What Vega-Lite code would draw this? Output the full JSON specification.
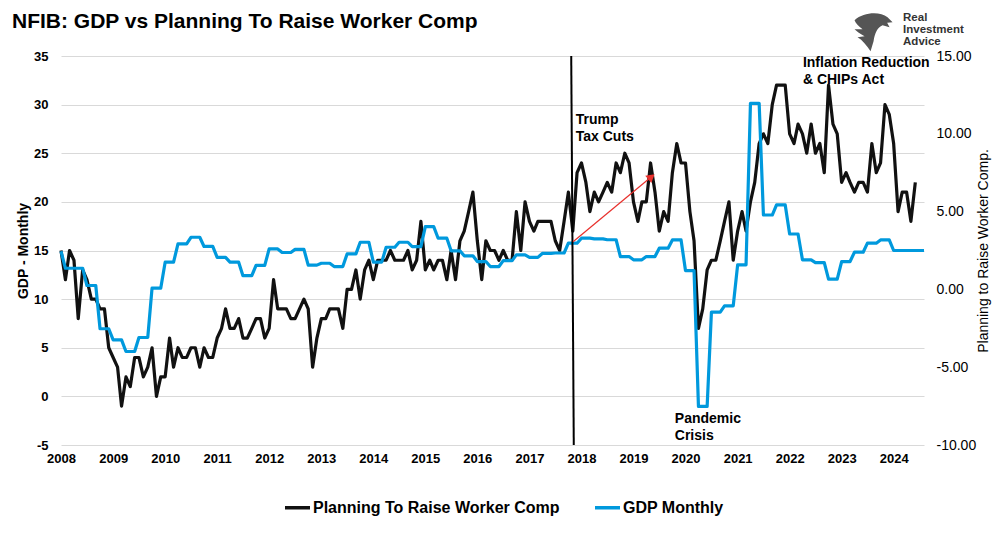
{
  "$schema": "https://vega.github.io/schema/vega-lite/v6.json",
  "width": 863,
  "height": 389,
  "autosize": "none",
  "padding": {"left": 61, "top": 56, "right": 71, "bottom": 93},
  "background": "#ffffff",
  "title": {
    "text": "NFIB: GDP vs Planning To Raise Worker Comp",
    "anchor": "start",
    "frame": "group",
    "orient": "top",
    "offset": 0,
    "baseline": "alphabetic",
    "dx": -49,
    "dy": 37,
    "fontSize": 21,
    "fontWeight": "bold",
    "font": "Liberation Sans",
    "color": "#000000"
  },
  "config": {
    "font": "Liberation Sans",
    "view": {"stroke": null},
    "axis": {"labelFont": "Liberation Sans", "titleFont": "Liberation Sans"}
  },
  "data": {
    "format": {"parse": {"date": "date:'%Y-%m'"}},
    "values": [
      {"date": "2008-01", "comp": 15, "gdp": 2.45},
      {"date": "2008-02", "comp": 12, "gdp": 1.36},
      {"date": "2008-03", "comp": 15, "gdp": 1.36},
      {"date": "2008-04", "comp": 14, "gdp": 1.36},
      {"date": "2008-05", "comp": 8, "gdp": 1.36},
      {"date": "2008-06", "comp": 13, "gdp": 1.36},
      {"date": "2008-07", "comp": 12, "gdp": 0.25},
      {"date": "2008-08", "comp": 10, "gdp": 0.25},
      {"date": "2008-09", "comp": 10, "gdp": 0.25},
      {"date": "2008-10", "comp": 9, "gdp": -2.53},
      {"date": "2008-11", "comp": 9, "gdp": -2.53},
      {"date": "2008-12", "comp": 5, "gdp": -2.53},
      {"date": "2009-01", "comp": 4, "gdp": -3.24},
      {"date": "2009-02", "comp": 3, "gdp": -3.24},
      {"date": "2009-03", "comp": -1, "gdp": -3.24},
      {"date": "2009-04", "comp": 2, "gdp": -3.99},
      {"date": "2009-05", "comp": 1, "gdp": -3.99},
      {"date": "2009-06", "comp": 4, "gdp": -3.99},
      {"date": "2009-07", "comp": 4, "gdp": -3.09},
      {"date": "2009-08", "comp": 2, "gdp": -3.09},
      {"date": "2009-09", "comp": 3, "gdp": -3.09},
      {"date": "2009-10", "comp": 5, "gdp": 0.08},
      {"date": "2009-11", "comp": 0, "gdp": 0.08},
      {"date": "2009-12", "comp": 2, "gdp": 0.08},
      {"date": "2010-01", "comp": 2, "gdp": 1.75},
      {"date": "2010-02", "comp": 6, "gdp": 1.75},
      {"date": "2010-03", "comp": 3, "gdp": 1.75},
      {"date": "2010-04", "comp": 5, "gdp": 2.92},
      {"date": "2010-05", "comp": 4, "gdp": 2.92},
      {"date": "2010-06", "comp": 4, "gdp": 2.92},
      {"date": "2010-07", "comp": 5, "gdp": 3.35},
      {"date": "2010-08", "comp": 5, "gdp": 3.35},
      {"date": "2010-09", "comp": 3, "gdp": 3.35},
      {"date": "2010-10", "comp": 5, "gdp": 2.76},
      {"date": "2010-11", "comp": 4, "gdp": 2.76},
      {"date": "2010-12", "comp": 4, "gdp": 2.76},
      {"date": "2011-01", "comp": 6, "gdp": 2.06},
      {"date": "2011-02", "comp": 7, "gdp": 2.06},
      {"date": "2011-03", "comp": 9, "gdp": 2.06},
      {"date": "2011-04", "comp": 7, "gdp": 1.75},
      {"date": "2011-05", "comp": 7, "gdp": 1.75},
      {"date": "2011-06", "comp": 8, "gdp": 1.75},
      {"date": "2011-07", "comp": 6, "gdp": 0.88},
      {"date": "2011-08", "comp": 6, "gdp": 0.88},
      {"date": "2011-09", "comp": 7, "gdp": 0.88},
      {"date": "2011-10", "comp": 8, "gdp": 1.54},
      {"date": "2011-11", "comp": 8, "gdp": 1.54},
      {"date": "2011-12", "comp": 6, "gdp": 1.54},
      {"date": "2012-01", "comp": 7, "gdp": 2.6},
      {"date": "2012-02", "comp": 12, "gdp": 2.6},
      {"date": "2012-03", "comp": 9, "gdp": 2.6},
      {"date": "2012-04", "comp": 9, "gdp": 2.37},
      {"date": "2012-05", "comp": 9, "gdp": 2.37},
      {"date": "2012-06", "comp": 8, "gdp": 2.37},
      {"date": "2012-07", "comp": 8, "gdp": 2.57},
      {"date": "2012-08", "comp": 9, "gdp": 2.57},
      {"date": "2012-09", "comp": 10, "gdp": 2.57},
      {"date": "2012-10", "comp": 9, "gdp": 1.56},
      {"date": "2012-11", "comp": 3, "gdp": 1.56},
      {"date": "2012-12", "comp": 6, "gdp": 1.56},
      {"date": "2013-01", "comp": 8, "gdp": 1.68},
      {"date": "2013-02", "comp": 8, "gdp": 1.68},
      {"date": "2013-03", "comp": 9, "gdp": 1.68},
      {"date": "2013-04", "comp": 9, "gdp": 1.47},
      {"date": "2013-05", "comp": 9, "gdp": 1.47},
      {"date": "2013-06", "comp": 7, "gdp": 1.47},
      {"date": "2013-07", "comp": 11, "gdp": 2.28},
      {"date": "2013-08", "comp": 11, "gdp": 2.28},
      {"date": "2013-09", "comp": 13, "gdp": 2.28},
      {"date": "2013-10", "comp": 10, "gdp": 3.03},
      {"date": "2013-11", "comp": 13, "gdp": 3.03},
      {"date": "2013-12", "comp": 14, "gdp": 3.03},
      {"date": "2014-01", "comp": 12, "gdp": 1.75},
      {"date": "2014-02", "comp": 14, "gdp": 1.75},
      {"date": "2014-03", "comp": 14, "gdp": 1.75},
      {"date": "2014-04", "comp": 14, "gdp": 2.71},
      {"date": "2014-05", "comp": 15, "gdp": 2.71},
      {"date": "2014-06", "comp": 14, "gdp": 2.71},
      {"date": "2014-07", "comp": 14, "gdp": 3.03},
      {"date": "2014-08", "comp": 14, "gdp": 3.03},
      {"date": "2014-09", "comp": 15, "gdp": 3.03},
      {"date": "2014-10", "comp": 13, "gdp": 2.75},
      {"date": "2014-11", "comp": 14, "gdp": 2.75},
      {"date": "2014-12", "comp": 18, "gdp": 2.75},
      {"date": "2015-01", "comp": 13, "gdp": 4.03},
      {"date": "2015-02", "comp": 14, "gdp": 4.03},
      {"date": "2015-03", "comp": 13, "gdp": 4.03},
      {"date": "2015-04", "comp": 14, "gdp": 3.29},
      {"date": "2015-05", "comp": 14, "gdp": 3.29},
      {"date": "2015-06", "comp": 12, "gdp": 3.29},
      {"date": "2015-07", "comp": 15, "gdp": 2.48},
      {"date": "2015-08", "comp": 12, "gdp": 2.48},
      {"date": "2015-09", "comp": 16, "gdp": 2.48},
      {"date": "2015-10", "comp": 17, "gdp": 2.16},
      {"date": "2015-11", "comp": 19, "gdp": 2.16},
      {"date": "2015-12", "comp": 21, "gdp": 2.16},
      {"date": "2016-01", "comp": 16, "gdp": 1.79},
      {"date": "2016-02", "comp": 12, "gdp": 1.79},
      {"date": "2016-03", "comp": 16, "gdp": 1.79},
      {"date": "2016-04", "comp": 15, "gdp": 1.47},
      {"date": "2016-05", "comp": 15, "gdp": 1.47},
      {"date": "2016-06", "comp": 14, "gdp": 1.47},
      {"date": "2016-07", "comp": 15, "gdp": 1.85},
      {"date": "2016-08", "comp": 14, "gdp": 1.85},
      {"date": "2016-09", "comp": 14, "gdp": 1.85},
      {"date": "2016-10", "comp": 19, "gdp": 2.22},
      {"date": "2016-11", "comp": 15, "gdp": 2.22},
      {"date": "2016-12", "comp": 20, "gdp": 2.22},
      {"date": "2017-01", "comp": 18, "gdp": 2.06},
      {"date": "2017-02", "comp": 17, "gdp": 2.06},
      {"date": "2017-03", "comp": 18, "gdp": 2.06},
      {"date": "2017-04", "comp": 18, "gdp": 2.31},
      {"date": "2017-05", "comp": 18, "gdp": 2.31},
      {"date": "2017-06", "comp": 18, "gdp": 2.31},
      {"date": "2017-07", "comp": 16, "gdp": 2.34},
      {"date": "2017-08", "comp": 15, "gdp": 2.34},
      {"date": "2017-09", "comp": 18, "gdp": 2.34},
      {"date": "2017-10", "comp": 21, "gdp": 2.97},
      {"date": "2017-11", "comp": 17, "gdp": 2.97},
      {"date": "2017-12", "comp": 23, "gdp": 2.97},
      {"date": "2018-01", "comp": 24, "gdp": 3.29},
      {"date": "2018-02", "comp": 22, "gdp": 3.29},
      {"date": "2018-03", "comp": 19, "gdp": 3.29},
      {"date": "2018-04", "comp": 21, "gdp": 3.25},
      {"date": "2018-05", "comp": 20, "gdp": 3.25},
      {"date": "2018-06", "comp": 21, "gdp": 3.25},
      {"date": "2018-07", "comp": 22, "gdp": 3.19},
      {"date": "2018-08", "comp": 21, "gdp": 3.19},
      {"date": "2018-09", "comp": 24, "gdp": 3.19},
      {"date": "2018-10", "comp": 23, "gdp": 2.11},
      {"date": "2018-11", "comp": 25, "gdp": 2.11},
      {"date": "2018-12", "comp": 24, "gdp": 2.11},
      {"date": "2019-01", "comp": 20, "gdp": 1.9},
      {"date": "2019-02", "comp": 18, "gdp": 1.9},
      {"date": "2019-03", "comp": 20, "gdp": 1.9},
      {"date": "2019-04", "comp": 20, "gdp": 2.11},
      {"date": "2019-05", "comp": 24, "gdp": 2.11},
      {"date": "2019-06", "comp": 21, "gdp": 2.11},
      {"date": "2019-07", "comp": 17, "gdp": 2.65},
      {"date": "2019-08", "comp": 19, "gdp": 2.65},
      {"date": "2019-09", "comp": 18, "gdp": 2.65},
      {"date": "2019-10", "comp": 23, "gdp": 3.18},
      {"date": "2019-11", "comp": 26, "gdp": 3.18},
      {"date": "2019-12", "comp": 24, "gdp": 3.18},
      {"date": "2020-01", "comp": 24, "gdp": 1.21},
      {"date": "2020-02", "comp": 19, "gdp": 1.21},
      {"date": "2020-03", "comp": 16, "gdp": 1.21},
      {"date": "2020-04", "comp": 7, "gdp": -7.52},
      {"date": "2020-05", "comp": 9, "gdp": -7.52},
      {"date": "2020-06", "comp": 13, "gdp": -7.52},
      {"date": "2020-07", "comp": 14, "gdp": -1.46},
      {"date": "2020-08", "comp": 14, "gdp": -1.46},
      {"date": "2020-09", "comp": 16, "gdp": -1.46},
      {"date": "2020-10", "comp": 18, "gdp": -1.06},
      {"date": "2020-11", "comp": 20, "gdp": -1.06},
      {"date": "2020-12", "comp": 14, "gdp": -1.06},
      {"date": "2021-01", "comp": 17, "gdp": 1.58},
      {"date": "2021-02", "comp": 19, "gdp": 1.58},
      {"date": "2021-03", "comp": 17, "gdp": 1.58},
      {"date": "2021-04", "comp": 20, "gdp": 11.96},
      {"date": "2021-05", "comp": 22, "gdp": 11.96},
      {"date": "2021-06", "comp": 26, "gdp": 11.96},
      {"date": "2021-07", "comp": 27, "gdp": 4.78},
      {"date": "2021-08", "comp": 26, "gdp": 4.78},
      {"date": "2021-09", "comp": 30, "gdp": 4.78},
      {"date": "2021-10", "comp": 32, "gdp": 5.43},
      {"date": "2021-11", "comp": 32, "gdp": 5.43},
      {"date": "2021-12", "comp": 32, "gdp": 5.43},
      {"date": "2022-01", "comp": 27, "gdp": 3.56},
      {"date": "2022-02", "comp": 26, "gdp": 3.56},
      {"date": "2022-03", "comp": 28, "gdp": 3.56},
      {"date": "2022-04", "comp": 27, "gdp": 1.9},
      {"date": "2022-05", "comp": 25, "gdp": 1.9},
      {"date": "2022-06", "comp": 28, "gdp": 1.9},
      {"date": "2022-07", "comp": 25, "gdp": 1.72},
      {"date": "2022-08", "comp": 26, "gdp": 1.72},
      {"date": "2022-09", "comp": 23, "gdp": 1.72},
      {"date": "2022-10", "comp": 32, "gdp": 0.66},
      {"date": "2022-11", "comp": 28, "gdp": 0.66},
      {"date": "2022-12", "comp": 27, "gdp": 0.66},
      {"date": "2023-01", "comp": 22, "gdp": 1.79},
      {"date": "2023-02", "comp": 23, "gdp": 1.79},
      {"date": "2023-03", "comp": 22, "gdp": 1.79},
      {"date": "2023-04", "comp": 21, "gdp": 2.39},
      {"date": "2023-05", "comp": 22, "gdp": 2.39},
      {"date": "2023-06", "comp": 22, "gdp": 2.39},
      {"date": "2023-07", "comp": 21, "gdp": 2.97},
      {"date": "2023-08", "comp": 26, "gdp": 2.97},
      {"date": "2023-09", "comp": 23, "gdp": 2.97},
      {"date": "2023-10", "comp": 24, "gdp": 3.18},
      {"date": "2023-11", "comp": 30, "gdp": 3.18},
      {"date": "2023-12", "comp": 29, "gdp": 3.18},
      {"date": "2024-01", "comp": 26, "gdp": 2.5},
      {"date": "2024-02", "comp": 19, "gdp": 2.5},
      {"date": "2024-03", "comp": 21, "gdp": 2.5},
      {"date": "2024-04", "comp": 21, "gdp": 2.5},
      {"date": "2024-05", "comp": 18, "gdp": 2.5},
      {"date": "2024-06", "comp": 22, "gdp": 2.5},
      {"date": "2024-07", "comp": null, "gdp": 2.5},
      {"date": "2024-08", "comp": null, "gdp": 2.5}
    ]
  },
  "encoding": {
    "x": {
      "field": "date", "type": "temporal",
      "scale": {"domain": [{"year": 2008, "month": 1, "date": 1}, {"year": 2024, "month": 8, "date": 1}]},
      "axis": {
        "title": null, "format": "%Y", "tickCount": {"interval": "year", "step": 1},
        "grid": false, "domain": false, "ticks": false, "labelFlush": false, "labelOverlap": false,
        "labelFontSize": 13, "labelFontWeight": "bold", "labelColor": "#000000", "labelPadding": 7, "labelAngle": 0
      }
    }
  },
  "layer": [
    {
      "mark": {"type": "line", "strokeWidth": 3.2, "strokeJoin": "round"},
      "encoding": {
        "y": {
          "field": "comp", "type": "quantitative",
          "scale": {"domain": [-5, 35], "nice": false},
          "axis": {
            "orient": "left",
            "values": [-5, 0, 5, 10, 15, 20, 25, 30, 35],
            "labelExpr": "replace(datum.label, '\u2212', '-')",
            "grid": true, "gridColor": "#d9d9d9", "gridWidth": 1,
            "domain": false, "ticks": false,
            "labelFontSize": 13, "labelFontWeight": "bold", "labelColor": "#000000", "labelPadding": 13,
            "title": "GDP - Monthly", "titleFontSize": 14, "titleFontWeight": "bold", "titleColor": "#000000",
            "titleAngle": -90, "titleX": -34, "titleY": 194.5, "titleAlign": "center", "titleBaseline": "alphabetic"
          }
        },
        "color": {
          "datum": "Planning To Raise Worker Comp", "type": "nominal",
          "scale": {"domain": ["Planning To Raise Worker Comp", "GDP Monthly"], "range": ["#111111", "#0099dd"]},
          "legend": {
            "title": null, "orient": "none", "legendX": 222, "legendY": 437, "direction": "horizontal",
            "padding": 0, "symbolType": "stroke", "symbolSize": 625, "symbolStrokeWidth": 3.5,
            "labelFontSize": 16, "labelFontWeight": "bold", "labelColor": "#000000", "labelOffset": 1,
            "labelLimit": 400, "columnPadding": 28
          }
        }
      }
    },
    {
      "mark": {"type": "line", "strokeWidth": 3.2, "strokeJoin": "round"},
      "encoding": {
        "y": {
          "field": "gdp", "type": "quantitative",
          "scale": {"domain": [-10, 15], "nice": false},
          "axis": {
            "orient": "right",
            "values": [-10, -5, 0, 5, 10, 15], "format": ".2f",
            "labelExpr": "replace(datum.label, '\u2212', '-')",
            "grid": false, "domain": false, "ticks": false,
            "labelFontSize": 14, "labelFontWeight": "normal", "labelColor": "#000000", "labelPadding": 12,
            "title": "Planning to Raise Worker Comp.", "titleFontSize": 14, "titleFontWeight": "normal", "titleColor": "#000000",
            "titleAngle": -90, "titleX": 63, "titleY": 194.5, "titleAlign": "center", "titleBaseline": "alphabetic"
          }
        },
        "color": {
          "datum": "GDP Monthly", "type": "nominal",
          "scale": {"domain": ["Planning To Raise Worker Comp", "GDP Monthly"], "range": ["#111111", "#0099dd"]},
          "legend": {
            "title": null, "orient": "none", "legendX": 222, "legendY": 437, "direction": "horizontal",
            "padding": 0, "symbolType": "stroke", "symbolSize": 625, "symbolStrokeWidth": 3.5,
            "labelFontSize": 16, "labelFontWeight": "bold", "labelColor": "#000000", "labelOffset": 1,
            "labelLimit": 400, "columnPadding": 28
          }
        }
      }
    },
    {
      "data": {
        "format": {"parse": {"date": "date:'%Y-%m-%d'", "date2": "date:'%Y-%m-%d'"}},
        "values": [{"date": "2017-10-21", "date2": "2017-11-08", "top": 35, "bottom": -5}]
      },
      "mark": {"type": "rule", "color": "#000000", "strokeWidth": 2},
      "encoding": {
        "x2": {"field": "date2"},
        "y": {"field": "top", "type": "quantitative", "scale": {"domain": [-5, 35], "nice": false}, "axis": null},
        "y2": {"field": "bottom"}
      }
    },
    {
      "data": {
        "format": {"parse": {"date": "date:'%Y-%m-%d'", "date2": "date:'%Y-%m-%d'"}},
        "values": [{"date": "2017-11-03", "date2": "2019-05-07", "start": 15.9, "end": 22.58}]
      },
      "mark": {"type": "rule", "color": "#e8302c", "strokeWidth": 1.2},
      "encoding": {
        "x2": {"field": "date2"},
        "y": {"field": "start", "type": "quantitative", "scale": {"domain": [-5, 35], "nice": false}, "axis": null},
        "y2": {"field": "end"}
      }
    },
    {
      "data": {
        "format": {"parse": {"date": "date:'%Y-%m-%d'"}},
        "values": [{"date": "2019-05-07", "value": 22.58}]
      },
      "mark": {"type": "point", "shape": "triangle-up", "filled": true, "size": 90, "angle": 50, "color": "#e8302c", "opacity": 1},
      "encoding": {
        "y": {"field": "value", "type": "quantitative", "scale": {"domain": [-5, 35], "nice": false}, "axis": null}
      }
    },
    {
      "data": {
        "format": {"parse": {"date": "date:'%Y-%m-%d'"}},
        "values": [
          {"date": "2017-11-22", "value": 28.0, "label": "Trump\nTax Cuts"},
          {"date": "2019-10-18", "value": -2.73, "label": "Pandemic\nCrisis"},
          {"date": "2022-04-04", "value": 33.88, "label": "Inflation Reduction\n& CHIPs Act"}
        ]
      },
      "mark": {"type": "text", "align": "left", "baseline": "alphabetic", "lineBreak": "\n", "lineHeight": 17, "fontSize": 14, "fontWeight": "bold", "font": "Liberation Sans", "color": "#000000"},
      "encoding": {
        "y": {"field": "value", "type": "quantitative", "scale": {"domain": [-5, 35], "nice": false}, "axis": null},
        "text": {"field": "label", "type": "nominal"}
      }
    },
    {
      "data": {
        "format": {"parse": {"date": "date:'%Y-%m-%d'"}},
        "values": [{"date": "2024-03-07", "value": 38.6, "label": "Real\nInvestment\nAdvice"}]
      },
      "mark": {"type": "text", "align": "left", "baseline": "alphabetic", "lineBreak": "\n", "lineHeight": 12, "fontSize": 11.5, "fontWeight": "bold", "font": "Liberation Sans", "color": "#333333"},
      "encoding": {
        "y": {"field": "value", "type": "quantitative", "scale": {"domain": [-5, 35], "nice": false}, "axis": null},
        "text": {"field": "label", "type": "nominal"}
      }
    },
    {
      "data": {
        "format": {"parse": {"date": "date:'%Y-%m-%d'"}},
        "values": [{"date": "2023-08-13", "value": 37.55}]
      },
      "mark": {
        "type": "point", "filled": true, "size": 1600, "color": "#555555", "opacity": 1,
        "shape": "M -0.95,-0.55 C -0.5,-0.95 0.3,-1 0.7,-0.7 L 0.95,-0.45 L 0.68,-0.42 L 0.8,-0.2 L 0.45,-0.3 C 0.2,-0.2 0.05,0.1 0,0.5 L -0.15,1 C -0.35,0.7 -0.55,0.45 -0.8,0.3 L -0.45,0.25 C -0.7,0.1 -0.85,0 -0.95,-0.1 L -0.55,-0.1 C -0.75,-0.25 -0.9,-0.4 -0.95,-0.55 Z"
      },
      "encoding": {
        "y": {"field": "value", "type": "quantitative", "scale": {"domain": [-5, 35], "nice": false}, "axis": null}
      }
    }
  ],
  "resolve": {"scale": {"y": "independent"}}
}
